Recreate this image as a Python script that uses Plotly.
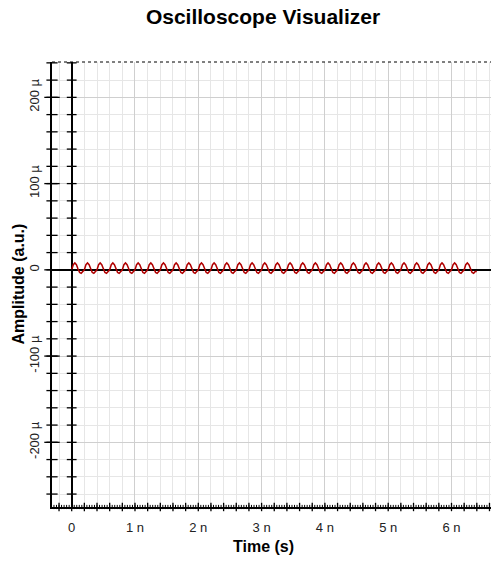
import numpy as np
import plotly.graph_objects as go

# ---- data ----
# amplitude samples in micro-units, one row per 0.2 ns period, 8 samples per period (0.025 ns step)
signal_uV_rows = [
    [0, 6, 8, 6, 1, -3, -4, -2],
    [0, 6, 8, 6, 1, -3, -4, -2],
    [0, 6, 8, 6, 1, -3, -4, -2],
    [0, 6, 8, 6, 1, -3, -4, -2],
    [0, 6, 8, 6, 1, -3, -4, -2],
    [0, 6, 8, 6, 1, -3, -4, -2],
    [0, 6, 8, 6, 1, -3, -4, -2],
    [0, 6, 8, 6, 1, -3, -4, -2],
    [0, 6, 8, 6, 1, -3, -4, -2],
    [0, 6, 8, 6, 1, -3, -4, -2],
    [0, 6, 8, 6, 1, -3, -4, -2],
    [0, 6, 8, 6, 1, -3, -4, -2],
    [0, 6, 8, 6, 1, -3, -4, -2],
    [0, 6, 8, 6, 1, -3, -4, -2],
    [0, 6, 8, 6, 1, -3, -4, -2],
    [0, 6, 8, 6, 1, -3, -4, -2],
    [0, 6, 8, 6, 1, -3, -4, -2],
    [0, 6, 8, 6, 1, -3, -4, -2],
    [0, 6, 8, 6, 1, -3, -4, -2],
    [0, 6, 8, 6, 1, -3, -4, -2],
    [0, 6, 8, 6, 1, -3, -4, -2],
    [0, 6, 8, 6, 1, -3, -4, -2],
    [0, 6, 8, 6, 1, -3, -4, -2],
    [0, 6, 8, 6, 1, -3, -4, -2],
    [0, 6, 8, 6, 1, -3, -4, -2],
    [0, 6, 8, 6, 1, -3, -4, -2],
    [0, 6, 8, 6, 1, -3, -4, -2],
    [0, 6, 8, 6, 1, -3, -4, -2],
    [0, 6, 8, 6, 1, -3, -4, -2],
    [0, 6, 8, 6, 1, -3, -4, -2],
    [0, 6, 8, 6, 1, -3, -4, -2],
    [0, 6, 8, 6, 1, -3, -4, -2],
    [-2],
]
sample_step_s = 0.025e-9

x_tick_vals = [0, 1e-9, 2e-9, 3e-9, 4e-9, 5e-9, 6e-9]
x_tick_text = ["0", "1 n", "2 n", "3 n", "4 n", "5 n", "6 n"]
y_tick_vals = [-200e-6, -100e-6, 0, 100e-6, 200e-6]
y_tick_text = ["-200 µ", "-100 µ", "0", "100 µ", "200 µ"]

x_range = [-0.311e-9, 6.624e-9]
y_range = [-275e-6, 241e-6]

# ---- build ----
amp = np.array([v for row in signal_uV_rows for v in row], dtype=float) * 1e-6
t = np.arange(len(amp)) * sample_step_s

FONT = "Liberation Sans, Arial, sans-serif"

fig = go.Figure()

fig.add_trace(go.Scatter(x=t, y=amp, mode="lines",
                         line=dict(color="#b00000", width=1.5),
                         hoverinfo="skip", showlegend=False))

# crossing tick marks on the left axis, zero line and bottom axis
y_minor = np.arange(-260e-6, 241e-6, 20e-6)
y_major = np.array(y_tick_vals)
tick_line = dict(color="black", width=1.3)
fig.add_trace(go.Scatter(x=[x_range[0]] * len(y_minor), y=y_minor, mode="markers",
                         marker=dict(symbol="line-ew", size=8, line=tick_line),
                         cliponaxis=False, showlegend=False, hoverinfo="skip"))
fig.add_trace(go.Scatter(x=[x_range[0]] * len(y_major), y=y_major, mode="markers",
                         marker=dict(symbol="line-ew", size=11, line=tick_line),
                         cliponaxis=False, showlegend=False, hoverinfo="skip"))
fig.add_trace(go.Scatter(x=[0] * len(y_minor), y=y_minor, mode="markers",
                         marker=dict(symbol="line-ew", size=7, line=tick_line),
                         cliponaxis=False, showlegend=False, hoverinfo="skip"))
x_minor = np.arange(-0.2e-9, 6.62e-9, 0.2e-9)
x_fine = np.arange(-0.28e-9, 6.62e-9, 0.04e-9)
fig.add_trace(go.Scatter(x=x_minor, y=[y_range[0]] * len(x_minor), mode="markers",
                         marker=dict(symbol="line-ns", size=6, line=tick_line),
                         cliponaxis=False, showlegend=False, hoverinfo="skip"))
fig.add_trace(go.Scatter(x=x_fine, y=[y_range[0]] * len(x_fine), mode="markers",
                         marker=dict(symbol="line-ns", size=3, line=dict(color="black", width=1)),
                         cliponaxis=False, showlegend=False, hoverinfo="skip"))

fig.update_layout(
    width=491, height=561,
    margin=dict(l=52, r=0, t=62, b=54),
    paper_bgcolor="white", plot_bgcolor="white",
    font=dict(family=FONT, color="#222222", size=13),
    title=dict(text="<b>Oscilloscope Visualizer</b>", x=263 / 491, xref="container",
               xanchor="center", y=1 - 17 / 561, yref="container", yanchor="middle",
               font=dict(family=FONT, size=21, color="black")),
    xaxis=dict(range=x_range, tickmode="array", tickvals=x_tick_vals, ticktext=x_tick_text,
               showgrid=True, gridcolor="#cfcfcf", gridwidth=1,
               minor=dict(tickmode="linear", tick0=0, dtick=0.2e-9, showgrid=True,
                          gridcolor="#e6e6e6", gridwidth=1),
               zeroline=True, zerolinecolor="black", zerolinewidth=1.5,
               showline=True, linecolor="black", linewidth=1.5,
               ticks="", ticklabelstandoff=8,
               tickfont=dict(size=13, color="#222222")),
    yaxis=dict(range=y_range, tickmode="array", tickvals=y_tick_vals, ticktext=y_tick_text,
               tickangle=-90,
               showgrid=True, gridcolor="#cfcfcf", gridwidth=1,
               minor=dict(tickmode="linear", tick0=0, dtick=20e-6, showgrid=True,
                          gridcolor="#e6e6e6", gridwidth=1),
               zeroline=True, zerolinecolor="black", zerolinewidth=1.5,
               showline=True, linecolor="black", linewidth=1.5,
               ticks="", ticklabelstandoff=6,
               tickfont=dict(size=13, color="#222222")),
    shapes=[dict(type="line", xref="paper", yref="paper", x0=0, x1=1, y0=1, y1=1,
                 line=dict(color="black", width=1, dash="dot"))],
    annotations=[
        dict(text="<b>Time (s)</b>", xref="paper", yref="paper", x=(263 - 52) / 439,
             y=-(546 - 507) / 445, xanchor="center", yanchor="middle", showarrow=False,
             font=dict(family=FONT, size=16, color="black")),
        dict(text="<b>Amplitude (a.u.)</b>", xref="paper", yref="paper", x=(18 - 52) / 439,
             y=0.5, xanchor="center", yanchor="middle", textangle=-90, showarrow=False,
             font=dict(family=FONT, size=16, color="black")),
    ],
)

fig.write_html("out.html")
